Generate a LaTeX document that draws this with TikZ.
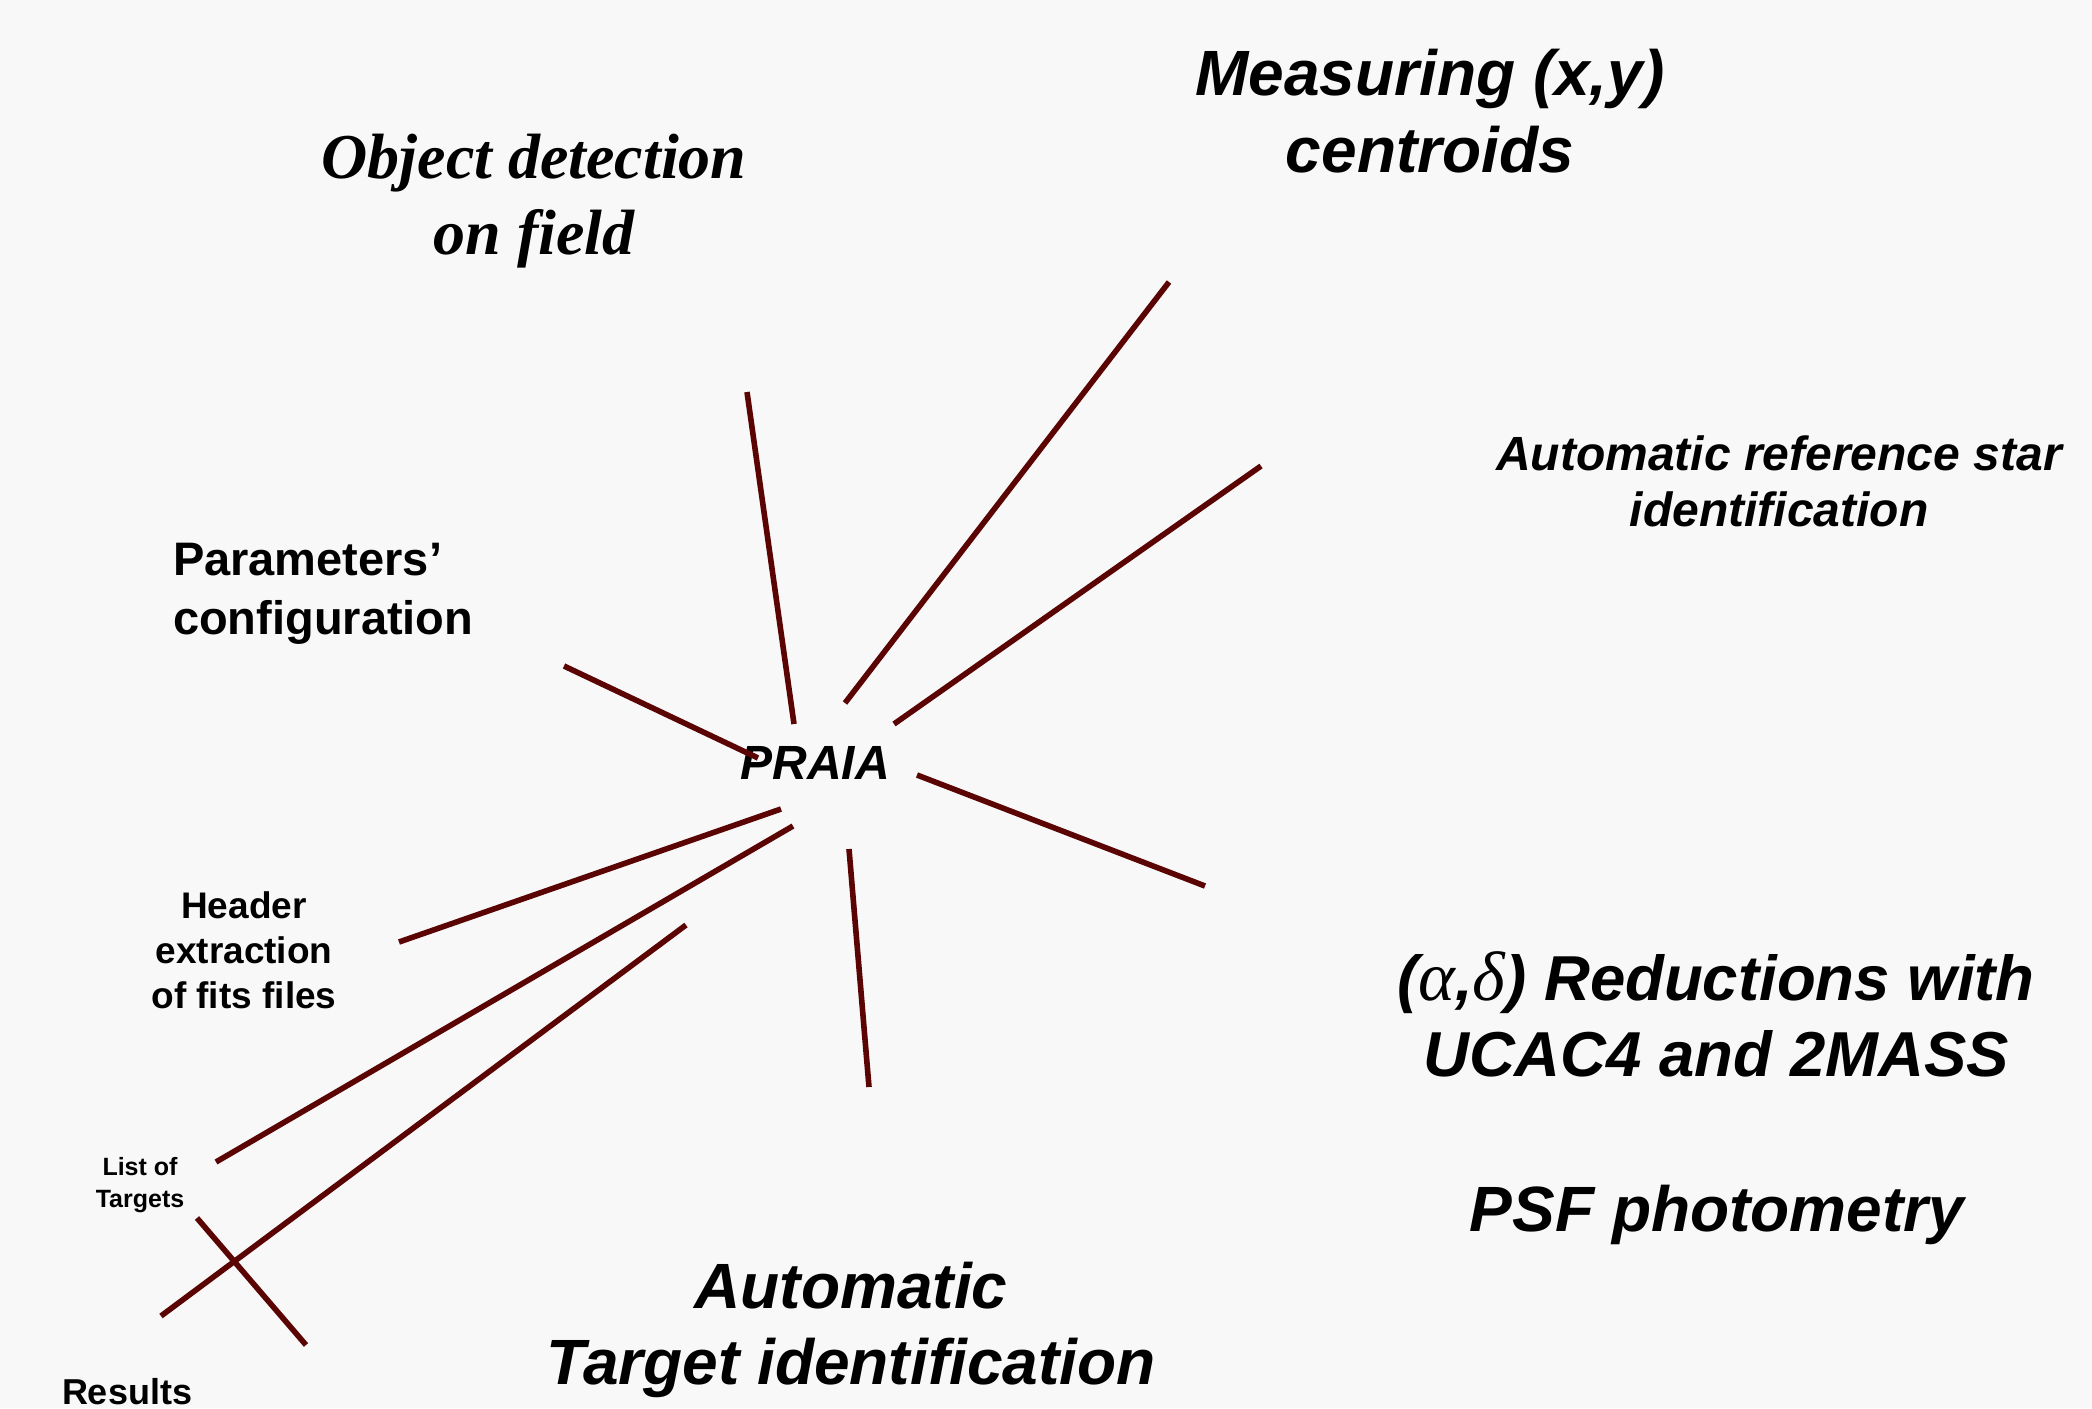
\documentclass[tikz,border=0pt]{standalone}
\usepackage{fontspec}
\setmainfont{Liberation Sans}
\newfontfamily\tnr{Liberation Serif}
\definecolor{spoke}{RGB}{90,4,4}
\definecolor{bg}{RGB}{248,248,248}
\begin{document}
\begin{tikzpicture}[x=1pt,y=-1pt,
  spokeline/.style={draw=spoke,line width=5.6pt},
  lbl/.style={inner sep=0pt,outer sep=0pt,anchor=base,align=center},
]
\fill[bg] (0,0) rectangle (2092,1408);
\useasboundingbox (0,0) rectangle (2092,1408);

% text nodes (anchor = baseline of the last line)
\node[lbl,font=\tnr\bfseries\itshape\fontsize{64}{76}\selectfont] (obj) at (534,254) {Object detection\\on field};
\node[lbl,font=\bfseries\itshape\fontsize{64}{77}\selectfont] (meas) at (1430,172) {Measuring (x,y)\\centroids};
\node[lbl,font=\bfseries\itshape\fontsize{48}{56}\selectfont] (aref) at (1779,526) {Automatic reference star\\identification};
\node[lbl,anchor=base west,align=left,font=\bfseries\fontsize{47}{59}\selectfont] (param) at (173,634) {Parameters’\\configuration};
\node[lbl,font=\bfseries\itshape\fontsize{48}{52}\selectfont] (praia) at (815,779) {PRAIA};
\node[lbl,font=\bfseries\fontsize{37}{45}\selectfont] (header) at (244,1008) {Header\\extraction\\of fits files};
\node[lbl,font=\bfseries\fontsize{25}{32}\selectfont] (list) at (140,1207) {List of\\Targets};
\node[lbl,anchor=base west,font=\bfseries\fontsize{36}{40}\selectfont] (results) at (62,1404) {Results};
\node[lbl,font=\bfseries\itshape\fontsize{64}{76}\selectfont] (autot) at (851,1384) {Automatic\\Target identification};
\node[lbl,font=\bfseries\itshape\fontsize{63.5}{76}\selectfont] (red) at (1716,1076) {({\tnr\mdseries\fontsize{70}{76}\selectfont α},{\tnr\mdseries\fontsize{70}{76}\selectfont δ}) Reductions with\\UCAC4 and 2MASS};
\node[lbl,font=\bfseries\itshape\fontsize{64}{70}\selectfont] (psf) at (1717,1231) {PSF photometry};

% spoke end points
\coordinate (a1) at (747,392);  \coordinate (b1) at (794,724);
\coordinate (a2) at (1169,282); \coordinate (b2) at (845,703);
\coordinate (a3) at (1261,466); \coordinate (b3) at (894,724);
\coordinate (a4) at (564,666);  \coordinate (b4) at (758,758);
\coordinate (a5) at (917,775);  \coordinate (b5) at (1205,886);
\coordinate (a6) at (781,809);  \coordinate (b6) at (399,942);
\coordinate (a7) at (793,826);  \coordinate (b7) at (216,1162);
\coordinate (a8) at (686,925);  \coordinate (b8) at (161,1316);
\coordinate (a9) at (849,849);  \coordinate (b9) at (869,1087);
\coordinate (a10) at (197,1218); \coordinate (b10) at (306,1345);

\foreach \i in {1,...,10}{\draw[spokeline] (a\i) -- (b\i);}
\end{tikzpicture}
\end{document}
